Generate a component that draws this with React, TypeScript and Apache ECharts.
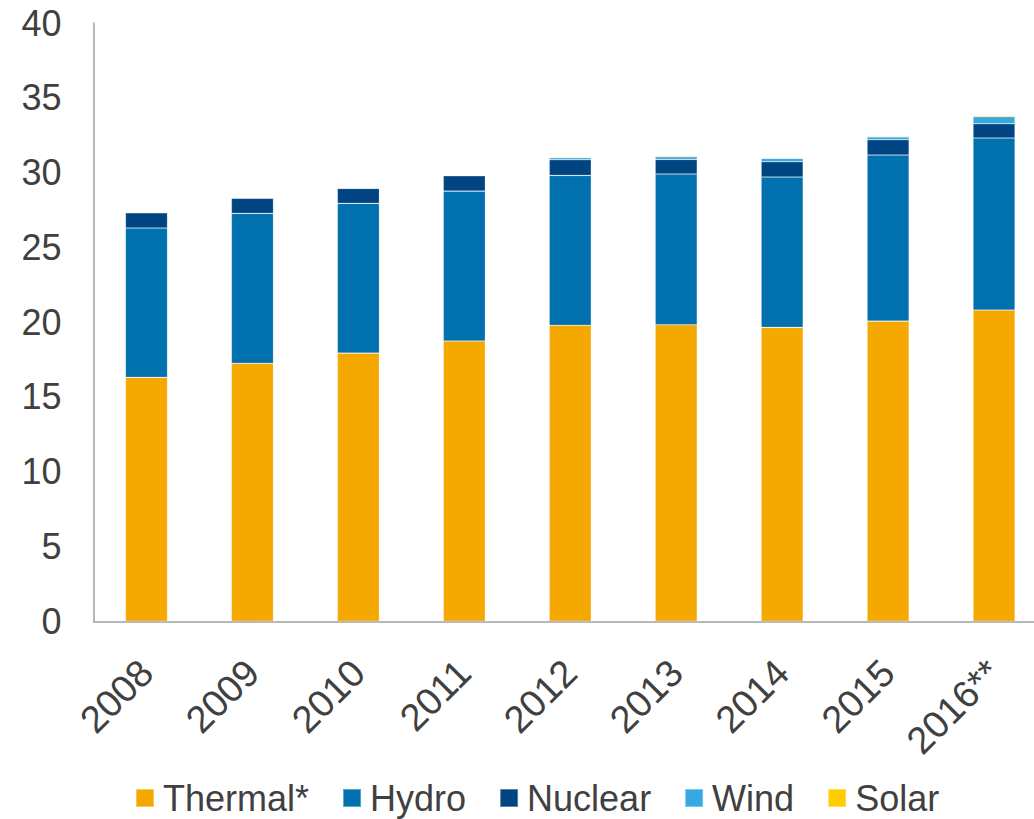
import React, { useEffect, useRef } from "react";
import * as echarts from "echarts";

const categories = ["2008", "2009", "2010", "2011", "2012", "2013", "2014", "2015", "2016**"];
const thermal = [16.31, 17.25, 17.93, 18.74, 19.79, 19.83, 19.65, 20.07, 20.81];
const hydro = [9.98, 10.02, 10.01, 10.02, 10.02, 10.07, 10.05, 11.1, 11.5];
const nuclear = [1.02, 1.01, 1.0, 1.03, 1.05, 0.98, 1.02, 1.02, 0.95];
const wind = [0.01, 0.01, 0.01, 0.01, 0.13, 0.18, 0.23, 0.2, 0.47];
const solar = [0.04, 0.04, 0.04, 0.04, 0.05, 0.05, 0.05, 0.06, 0.07];
const yTicks = { min: 0, max: 40, interval: 5 };

const FONT = 'Arial, "Liberation Sans", sans-serif';
const TEXT = "#404040";

export default function App() {
  const ref = useRef<HTMLDivElement>(null);
  useEffect(() => {
    if (!ref.current) return;
    const chart = echarts.init(ref.current, null, { renderer: "svg" });
    const mk = (name: string, data: number[], color: string) => ({
      name,
      type: "bar",
      stack: "total",
      data,
      barWidth: 42,
      itemStyle: { color, borderColor: "rgba(255,255,255,0.35)", borderWidth: 0.6 },
    });
    chart.setOption({
      animation: false,
      textStyle: { fontFamily: FONT },
      grid: {
        left: 93.5,
        top: 23,
        height: 598.3,
        width: 953.5,
        containLabel: false,
        outerBoundsMode: "none",
      },
      legend: {
        left: 130,
        top: 775,
        itemWidth: 18,
        itemHeight: 18,
        itemGap: 33,
        icon: "rect",
        textStyle: { fontSize: 36, color: TEXT, fontFamily: FONT, padding: [0, 0, 0, 4] },
        data: ["Thermal*", "Hydro", "Nuclear", "Wind", "Solar"],
      },
      xAxis: {
        type: "category",
        data: categories,
        axisLine: { lineStyle: { color: "#A0A0A0", width: 1.5 } },
        axisTick: { show: false },
        axisLabel: { rotate: 45, fontSize: 38, color: TEXT, margin: 45, interval: 0, fontFamily: FONT },
      },
      yAxis: {
        type: "value",
        min: yTicks.min,
        max: yTicks.max,
        interval: yTicks.interval,
        axisLine: { show: true, lineStyle: { color: "#A0A0A0", width: 1.5 } },
        axisTick: { show: false },
        splitLine: { show: false },
        axisLabel: { fontSize: 36, color: TEXT, margin: 32, fontFamily: FONT },
      },
      series: [
        mk("Thermal*", thermal, "#F5A800"),
        mk("Hydro", hydro, "#0070AF"),
        mk("Nuclear", nuclear, "#004481"),
        mk("Wind", wind, "#36A9E1"),
        mk("Solar", solar, "#FFCC00"),
      ],
    });
    return () => chart.dispose();
  }, []);
  return (
    <div
      ref={ref}
      style={{ position: "absolute", left: 0, top: 0, width: 1034, height: 819 }}
    />
  );
}
